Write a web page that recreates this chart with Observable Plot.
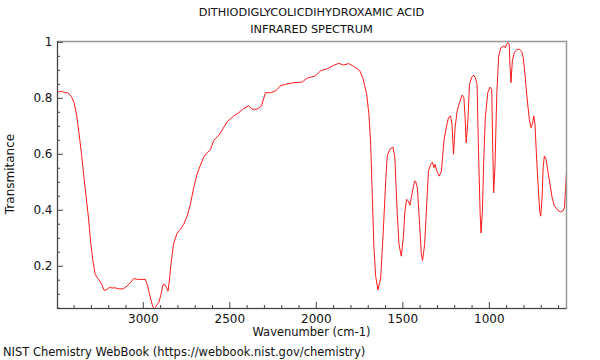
<!DOCTYPE html>
<html>
<head>
<meta charset="utf-8">
<script src="https://cdn.jsdelivr.net/npm/d3@7"></script>
<script src="https://cdn.jsdelivr.net/npm/@observablehq/plot@0.6"></script>
<style>
  body { margin: 0; background: #fff; }
  #wrap { position: relative; width: 600px; height: 360px; font-family: "DejaVu Sans", sans-serif; color: #111; overflow: hidden; }
  #wrap svg { position: absolute; left: 0; top: 0; }
  .txt { position: absolute; font-size: 11.3px; line-height: 13px; white-space: nowrap; }
  .center { left: 0; width: 623px; text-align: center; }
  #ylab { left: 10px; top: 174px; transform: translate(-50%, -50%) rotate(-90deg); font-size: 12px; }
</style>
</head>
<body>
<div id="wrap">
  <div class="txt center" id="t1" style="top:6px"></div>
  <div class="txt center" id="t2" style="top:23px"></div>
  <div class="txt center" id="xlab" style="top:326px; font-size:11.5px"></div>
  <div class="txt" id="ylab"></div>
  <div class="txt" id="cap" style="top:346px; left:3px; font-size:11.5px"></div>
</div>
<script>
const titleLines = ["DITHIODIGLYCOLICDIHYDROXAMIC ACID", "INFRARED SPECTRUM"];
const xLabel = "Wavenumber (cm-1)";
const yLabel = "Transmitance";
const caption = "NIST Chemistry WebBook (https://webbook.nist.gov/chemistry)";

const wavenumber = [3492,3472,3453,3434,3415,3400,3386,3371,3357,3345,3330,3317,3303,3291,3278,3259,3243,3226,3210,3195,3181,3162,3143,3117,3094,3075,3056,3033,3008,2988,2975,2959,2945,2936,2921,2911,2898,2886,2877,2867,2857,2848,2838,2825,2805,2786,2767,2747,2728,2709,2690,2670,2651,2631,2612,2593,2564,2545,2516,2477,2448,2420,2391,2371,2342,2317,2294,2265,2236,2207,2178,2130,2082,2053,2005,1976,1937,1899,1870,1844,1812,1779,1748,1729,1709,1696,1686,1676,1667,1657,1644,1628,1613,1599,1590,1575,1557,1546,1532,1522,1509,1497,1488,1478,1468,1459,1442,1432,1426,1416,1403,1393,1386,1374,1364,1352,1339,1329,1320,1314,1300,1289,1277,1262,1249,1236,1224,1216,1207,1198,1186,1173,1157,1147,1140,1134,1124,1115,1101,1090,1081,1071,1063,1053,1048,1040,1032,1023,1009,996,986,981,975,967,957,946,933,917,908,900,894,885,881,875,867,856,840,827,813,804,794,782,769,759,749,743,736,726,717,709,703,695,689,682,672,662,649,637,624,604,589,575,566,560,555];
const transmittance = [0.823,0.825,0.820,0.819,0.806,0.784,0.743,0.671,0.600,0.528,0.445,0.373,0.278,0.218,0.171,0.153,0.138,0.114,0.117,0.125,0.122,0.123,0.119,0.119,0.129,0.141,0.156,0.153,0.153,0.153,0.129,0.087,0.055,0.048,0.063,0.069,0.099,0.135,0.135,0.125,0.111,0.158,0.218,0.280,0.318,0.332,0.349,0.379,0.421,0.480,0.528,0.561,0.590,0.606,0.616,0.650,0.668,0.686,0.716,0.737,0.749,0.764,0.773,0.761,0.761,0.773,0.820,0.820,0.826,0.845,0.850,0.856,0.858,0.872,0.880,0.898,0.906,0.918,0.925,0.919,0.924,0.912,0.898,0.868,0.814,0.743,0.640,0.445,0.266,0.165,0.115,0.158,0.325,0.504,0.594,0.618,0.626,0.588,0.385,0.278,0.236,0.302,0.397,0.439,0.433,0.418,0.475,0.504,0.504,0.480,0.349,0.242,0.221,0.278,0.397,0.540,0.564,0.572,0.552,0.564,0.534,0.522,0.540,0.650,0.695,0.731,0.737,0.707,0.600,0.695,0.755,0.784,0.812,0.802,0.731,0.641,0.719,0.850,0.876,0.883,0.874,0.850,0.623,0.385,0.319,0.397,0.588,0.731,0.820,0.840,0.832,0.647,0.462,0.564,0.814,0.951,0.981,0.987,0.981,0.993,1.000,0.993,0.922,0.856,0.934,0.963,0.975,0.975,0.967,0.945,0.886,0.802,0.725,0.695,0.713,0.737,0.707,0.576,0.480,0.397,0.379,0.445,0.552,0.594,0.582,0.540,0.492,0.445,0.415,0.400,0.394,0.397,0.409,0.469,0.530];

const xMajorTicks = [3000, 2500, 2000, 1500, 1000];
const xMinorTicks = [3400,3300,3200,3100,2900,2800,2700,2600,2400,2300,2200,2100,1900,1800,1700,1600,1400,1300,1200,1100,900,800,700,600];
const yMajorTicks = [0.2, 0.4, 0.6, 0.8, 1];
const yMinorTicks = [0.05,0.1,0.15,0.25,0.3,0.35,0.45,0.5,0.55,0.65,0.7,0.75,0.85,0.9,0.95];
const xDomain = [3496, 554];
const yDomain = [0.049, 1.003];

const data = wavenumber.map((w, i) => ({wn: w, t: transmittance[i]}));

document.getElementById("t1").textContent = titleLines[0];
document.getElementById("t2").textContent = titleLines[1];
document.getElementById("xlab").textContent = xLabel;
document.getElementById("ylab").textContent = yLabel;
document.getElementById("cap").textContent = caption;

const chart = Plot.plot({
  width: 600,
  height: 360,
  marginTop: 41,
  marginRight: 34,
  marginBottom: 52,
  marginLeft: 57,
  style: {fontFamily: "DejaVu Sans, sans-serif", fontSize: "12px", background: "transparent", color: "#111"},
  x: {domain: xDomain, axis: null, label: null},
  y: {domain: yDomain, axis: null, label: null},
  marks: [
    Plot.line(data, {x: "wn", y: "t", stroke: "#ff1a1a", strokeWidth: 1, clip: true}),
    Plot.frame({stroke: "#999", strokeWidth: 1.5}),
    Plot.ruleX([xDomain[0]], {stroke: "#444", strokeWidth: 1}),
    Plot.ruleY([yDomain[0]], {stroke: "#444", strokeWidth: 1}),
    Plot.axisX({ticks: xMinorTicks, tickSize: -3, tickFormat: () => "", stroke: "#444", label: null}),
    Plot.axisX({ticks: xMajorTicks, tickSize: -6, tickFormat: () => "", stroke: "#444", label: null}),
    Plot.axisX({ticks: xMajorTicks, tickSize: 0, tickPadding: 6, tickFormat: d => String(d), fill: "#111", label: null}),
    Plot.axisY({ticks: yMinorTicks, tickSize: -3, tickFormat: () => "", stroke: "#444", label: null}),
    Plot.axisY({ticks: yMajorTicks, tickSize: -6, tickFormat: () => "", stroke: "#444", label: null}),
    Plot.axisY({ticks: yMajorTicks, tickSize: 0, tickPadding: 5, tickFormat: d => String(d), fill: "#111", label: null})
  ]
});
document.getElementById("wrap").appendChild(chart);
</script>
</body>
</html>
